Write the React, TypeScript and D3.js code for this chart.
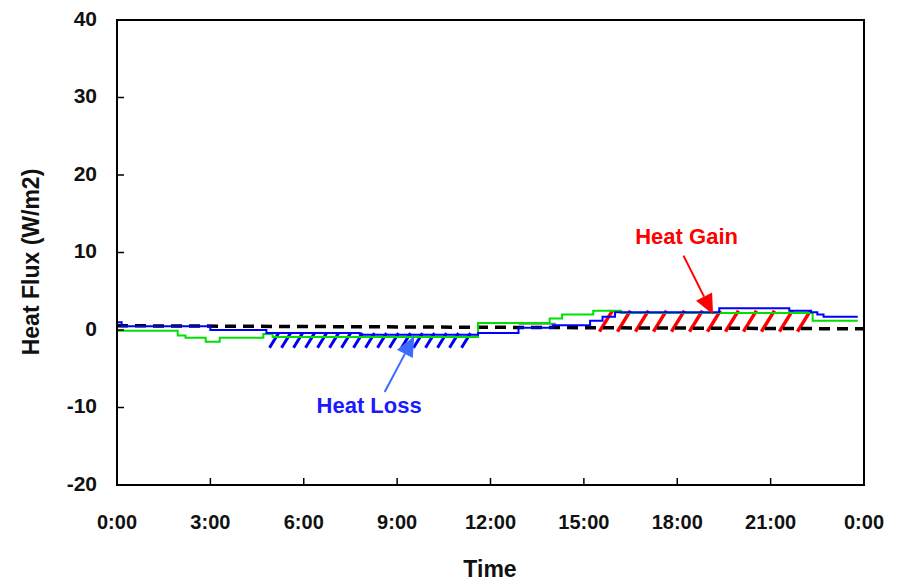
import React from "react";
import * as d3 from "d3";

// ---- data ----
const xTickValues = [0, 3, 6, 9, 12, 15, 18, 21, 24];
const xTickLabels = ["0:00", "3:00", "6:00", "9:00", "12:00", "15:00", "18:00", "21:00", "0:00"];
const yTickValues = [-20, -10, 0, 10, 20, 30, 40];

// step series: [hour, value] (value holds until next hour)
const blueSeries: [number, number][] = [
  [0, 1.0], [0.15, 0.5], [3.0, 0.0], [4.8, -0.4], [7.8, -0.6], [11.6, -0.4],
  [12.9, 0.3], [14.0, 0.6], [15.2, 1.2], [15.6, 1.7], [16.0, 2.3], [19.35, 2.8],
  [21.6, 2.5], [22.3, 2.3], [22.5, 2.0], [22.7, 1.7], [23.8, 1.7],
];
const greenSeries: [number, number][] = [
  [0, -0.1], [1.95, -0.7], [2.2, -1.0], [2.85, -1.5], [3.3, -1.0], [4.7, -0.5],
  [5.0, -0.9], [11.6, 0.9], [13.9, 1.5], [14.3, 2.0], [15.3, 2.5], [16.2, 2.2],
  [22.35, 1.2], [23.8, 1.2],
];
const greySeries: [number, number][] = [[12.9, 0.8], [14.1, 0.8]];
const dashedSeries: [number, number][] = [[0, 0.55], [24, 0.15]];

// hatch bands: [x0, x1, y0, y1]
const lossHatch = [4.9, 11.6, -2.3, -0.4];
const gainHatch = [15.5, 22.3, -0.2, 2.5];

// arrows: [[x0,y0],[x1,y1]] tail -> head
const gainArrow: [number, number][] = [[18.2, 9.6], [19.15, 2.0]];
const lossArrow: [number, number][] = [[8.6, -8.0], [9.55, -0.8]];
const gainLabel = { text: "Heat Gain", x: 18.3, y: 11.8 };
const lossLabel = { text: "Heat Loss", x: 8.1, y: -10.0 };

const W = 906, H = 581;
const FONT = "'Liberation Sans', Arial, sans-serif";

export default function App() {
  const x = d3.scaleLinear().domain([0, 24]).range([117, 864]);
  const y = d3.scaleLinear().domain([-20, 40]).range([485, 20]);

  const stepLine = d3.line<[number, number]>()
    .x((d) => x(d[0])).y((d) => y(d[1])).curve(d3.curveStepAfter);
  const linLine = d3.line<[number, number]>().x((d) => x(d[0])).y((d) => y(d[1]));

  const hatch = (band: number[], spacing: number, slant: number) => {
    const px0 = x(band[0]), px1 = x(band[1]);
    const yb = y(band[2]), yt = y(band[3]);
    return d3.range(px0, px1 - slant + 1, spacing).map((sx) => [sx, yb, sx + slant, yt]);
  };

  const arrow = (a: [number, number][], color: string, headLen: number, headW: number) => {
    const x0 = x(a[0][0]), y0 = y(a[0][1]), x1 = x(a[1][0]), y1 = y(a[1][1]);
    const ang = Math.atan2(y1 - y0, x1 - x0);
    const bx = x1 - headLen * Math.cos(ang), by = y1 - headLen * Math.sin(ang);
    const nx = -Math.sin(ang) * headW / 2, ny = Math.cos(ang) * headW / 2;
    return (
      <g>
        <line x1={x0} y1={y0} x2={bx} y2={by} stroke={color} strokeWidth={2} />
        <polygon points={`${x1},${y1} ${bx + nx},${by + ny} ${bx - nx},${by - ny}`} fill={color} />
      </g>
    );
  };

  return (
    <svg width={W} height={H} style={{ position: "absolute", left: 0, top: 0, background: "#fff" }}>
      {/* hatches */}
      {hatch(lossHatch, 12, 9).map((s, i) => (
        <line key={"l" + i} x1={s[0]} y1={s[1]} x2={s[2]} y2={s[3]} stroke="#0000ee" strokeWidth={3} />
      ))}
      {hatch(gainHatch, 18, 13).map((s, i) => (
        <line key={"g" + i} x1={s[0]} y1={s[1]} x2={s[2]} y2={s[3]} stroke="#ff0000" strokeWidth={3.5} />
      ))}
      {/* series */}
      <path d={linLine(dashedSeries) || ""} fill="none" stroke="#000" strokeWidth={3.5} strokeDasharray="11,7" />
      <path d={stepLine(greySeries) || ""} fill="none" stroke="#5b8f6e" strokeWidth={2} />
      <path d={stepLine(greenSeries) || ""} fill="none" stroke="#00e000" strokeWidth={2} />
      <path d={stepLine(blueSeries) || ""} fill="none" stroke="#0000ff" strokeWidth={2} />
      {/* arrows */}
      {arrow(gainArrow, "#ff0000", 20, 18)}
      {arrow(lossArrow, "#3a6cff", 20, 18)}
      <text x={x(gainLabel.x)} y={y(gainLabel.y)} textAnchor="middle" dominantBaseline="middle"
        fontFamily={FONT} fontWeight="bold" fontSize={22} fill="#ff0000">{gainLabel.text}</text>
      <text x={x(lossLabel.x)} y={y(lossLabel.y)} textAnchor="middle" dominantBaseline="middle"
        fontFamily={FONT} fontWeight="bold" fontSize={22} fill="#1a1aff">{lossLabel.text}</text>
      {/* frame */}
      <rect x={x(0)} y={y(40)} width={x(24) - x(0)} height={y(-20) - y(40)} fill="none" stroke="#000" strokeWidth={2} />
      {/* ticks */}
      {xTickValues.map((v, i) => (
        <g key={"xt" + i}>
          <line x1={x(v)} x2={x(v)} y1={y(-20)} y2={y(-20) - 7} stroke="#000" strokeWidth={1.5} />
          <text x={x(v)} y={524} textAnchor="middle" dominantBaseline="middle" fontFamily={FONT}
            fontWeight="bold" fontSize={20} fill="#111">{xTickLabels[i]}</text>
        </g>
      ))}
      {yTickValues.map((v, i) => (
        <g key={"yt" + i}>
          <line x1={x(0)} x2={x(0) + 7} y1={y(v)} y2={y(v)} stroke="#000" strokeWidth={1.5} />
          <text x={97} y={y(v)} textAnchor="end" dominantBaseline="middle" fontFamily={FONT}
            fontWeight="bold" fontSize={21} fill="#111">{v}</text>
        </g>
      ))}
      {/* axis titles */}
      <text x={490} y={571} textAnchor="middle" dominantBaseline="middle" fontFamily={FONT}
        fontWeight="bold" fontSize={23} fill="#111">Time</text>
      <text transform={`translate(33,262) rotate(-90)`} textAnchor="middle" dominantBaseline="middle"
        fontFamily={FONT} fontWeight="bold" fontSize={23} fill="#111">Heat Flux (W/m2)</text>
    </svg>
  );
}
